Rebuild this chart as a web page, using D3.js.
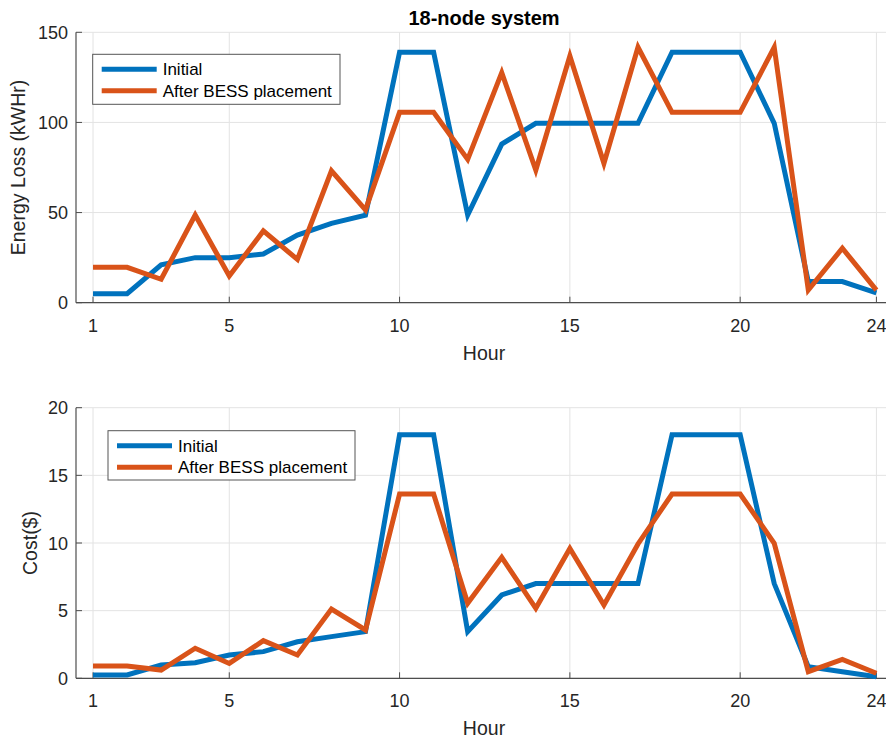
<!DOCTYPE html>
<html>
<head>
<meta charset="utf-8">
<script src="https://cdn.jsdelivr.net/npm/d3@7"></script>
<style>
  html, body { margin: 0; padding: 0; background: #fff; }
  svg { display: block; font-family: "Liberation Sans", Arial, Helvetica, sans-serif; }
</style>
</head>
<body>
<svg id="chart" width="886" height="738"></svg>
<script>
// ---- data ----
const hours = d3.range(1, 25);
const xTicks = [1, 5, 10, 15, 20, 24];
const seriesNames = ["Initial", "After BESS placement"];

const lossInitial = [5, 5, 21, 25, 25, 27, 37.5, 44, 48.6, 139, 139, 48.6, 88, 99.5, 99.5, 99.5, 99.5, 139, 139, 139, 99.5, 11.7, 11.7, 5.5];
const lossAfter   = [19.6, 19.6, 13, 48.6, 14.8, 39.8, 24, 73.2, 51.5, 105.6, 105.6, 79.5, 127.6, 73.6, 136.8, 77.3, 141.7, 105.6, 105.6, 105.6, 141.7, 7, 30.2, 7];
const lossTicks = [0, 50, 100, 150];

const costInitial = [0.25, 0.25, 0.98, 1.15, 1.72, 1.97, 2.7, 3.08, 3.45, 18, 18, 3.45, 6.16, 7.0, 7.0, 7.0, 7.0, 18, 18, 18, 7.0, 0.86, 0.49, 0.12];
const costAfter   = [0.91, 0.91, 0.61, 2.22, 1.1, 2.78, 1.72, 5.12, 3.57, 13.62, 13.62, 5.54, 8.94, 5.17, 9.6, 5.42, 9.93, 13.62, 13.62, 13.62, 9.98, 0.49, 1.4, 0.37];
const costTicks = [0, 5, 10, 15, 20];

// ---- layout ----
const svg = d3.select("#chart");
const colors = ["#0072BD", "#D95319"];
const textColor = "#262626";
const axisColor = "#4d4d4d";
const gridColor = "#e3e3e3";

function panel(cfg) {
  const x = d3.scaleLinear().domain([0.5, 24.5]).range([76, 76 + 24 * 34.06]);
  const y = d3.scaleLinear().domain(cfg.yDomain).range([cfg.bottom, cfg.top]);
  const g = svg.append("g");
  const xMax = 886;

  // grid
  g.append("g").selectAll("line.vg").data(xTicks).join("line")
    .attr("x1", d => x(d)).attr("x2", d => x(d))
    .attr("y1", cfg.top).attr("y2", cfg.bottom)
    .attr("stroke", gridColor).attr("stroke-width", 1);
  g.append("g").selectAll("line.hg").data(cfg.yTicks).join("line")
    .attr("x1", x(0.5)).attr("x2", xMax)
    .attr("y1", d => y(d)).attr("y2", d => y(d))
    .attr("stroke", gridColor).attr("stroke-width", 1);

  // axes lines
  g.append("line").attr("x1", x(0.5)).attr("x2", xMax)
    .attr("y1", cfg.bottom).attr("y2", cfg.bottom)
    .attr("stroke", axisColor).attr("stroke-width", 1.2);
  g.append("line").attr("x1", x(0.5)).attr("x2", x(0.5))
    .attr("y1", cfg.top).attr("y2", cfg.bottom)
    .attr("stroke", axisColor).attr("stroke-width", 1.2);

  // ticks (inward)
  g.append("g").selectAll("line").data(xTicks).join("line")
    .attr("x1", d => x(d)).attr("x2", d => x(d))
    .attr("y1", cfg.bottom).attr("y2", cfg.bottom - 6)
    .attr("stroke", axisColor).attr("stroke-width", 1);
  g.append("g").selectAll("line").data(cfg.yTicks).join("line")
    .attr("x1", x(0.5)).attr("x2", x(0.5) + 6)
    .attr("y1", d => y(d)).attr("y2", d => y(d))
    .attr("stroke", axisColor).attr("stroke-width", 1);

  // tick labels
  g.append("g").selectAll("text").data(xTicks).join("text")
    .attr("x", d => x(d)).attr("y", cfg.bottom + 29)
    .attr("text-anchor", "middle").attr("font-size", 18)
    .attr("fill", textColor).text(d => d);
  g.append("g").selectAll("text").data(cfg.yTicks).join("text")
    .attr("x", x(0.5) - 8).attr("y", d => y(d) + 6.5)
    .attr("text-anchor", "end").attr("font-size", 18)
    .attr("fill", textColor).text(d => d);

  // axis titles
  g.append("text").attr("x", 484).attr("y", cfg.bottom + 57)
    .attr("text-anchor", "middle").attr("font-size", 19.5)
    .attr("fill", textColor).text("Hour");
  g.append("text")
    .attr("transform", `translate(${cfg.ylabelX},${(cfg.top + cfg.bottom) / 2}) rotate(-90)`)
    .attr("text-anchor", "middle").attr("font-size", 19.5)
    .attr("fill", textColor).text(cfg.ylabel);

  // clip for lines
  const clipId = "clip" + cfg.id;
  svg.append("clipPath").attr("id", clipId).append("rect")
    .attr("x", x(0.5)).attr("y", cfg.top - 10).attr("width", xMax - x(0.5)).attr("height", cfg.bottom - cfg.top + 12);

  const line = d3.line().x((d, i) => x(hours[i])).y(d => y(d));
  [cfg.s1, cfg.s2].forEach((s, k) => {
    g.append("path").datum(s)
      .attr("d", line)
      .attr("fill", "none")
      .attr("stroke", colors[k])
      .attr("stroke-width", 5)
      .attr("stroke-linejoin", "miter")
      .attr("stroke-miterlimit", 10)
      .attr("clip-path", `url(#${clipId})`);
  });

  // legend
  const L = cfg.legend;
  const lg = g.append("g");
  lg.append("rect").attr("x", L.x).attr("y", L.y).attr("width", L.w).attr("height", L.h)
    .attr("fill", "#fff").attr("stroke", "#555").attr("stroke-width", 1);
  seriesNames.forEach((name, k) => {
    const yy = L.y + 15 + k * 21.5;
    lg.append("line").attr("x1", L.x + 9).attr("x2", L.x + 64)
      .attr("y1", yy).attr("y2", yy)
      .attr("stroke", colors[k]).attr("stroke-width", 5);
    lg.append("text").attr("x", L.x + 70).attr("y", yy + 6)
      .attr("font-size", 17).attr("fill", "#000").text(name);
  });
}

// title
svg.append("text").attr("x", 484).attr("y", 25)
  .attr("text-anchor", "middle").attr("font-size", 20).attr("font-weight", "bold")
  .attr("fill", "#000").text("18-node system");

panel({
  id: "top", top: 32.3, bottom: 302.7, yDomain: [0, 150], yTicks: lossTicks,
  s1: lossInitial, s2: lossAfter, ylabel: "Energy Loss (kWHr)", ylabelX: 25,
  legend: { x: 92.7, y: 54.3, w: 247.3, h: 50 }
});
panel({
  id: "bot", top: 407.7, bottom: 678.3, yDomain: [0, 20], yTicks: costTicks,
  s1: costInitial, s2: costAfter, ylabel: "Cost($)", ylabelX: 37,
  legend: { x: 108, y: 430.7, w: 247, h: 49.3 }
});
</script>
</body>
</html>
